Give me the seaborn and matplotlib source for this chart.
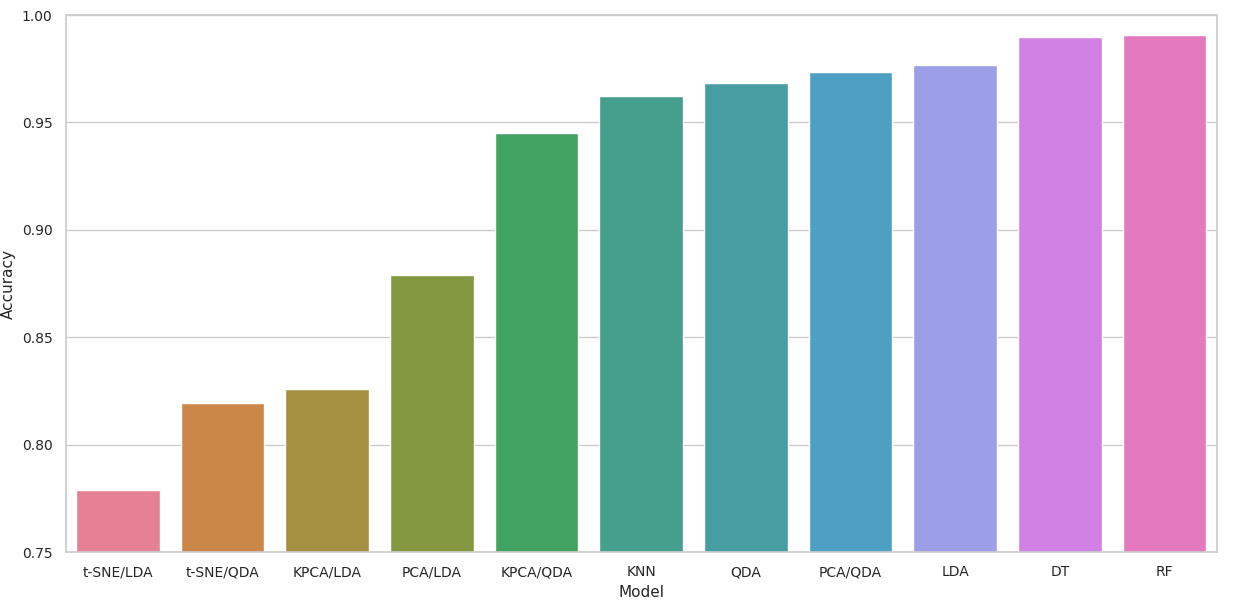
import pandas as pd
import matplotlib.pyplot as plt
import seaborn as sns

models = ['t-SNE/LDA', 't-SNE/QDA', 'KPCA/LDA', 'PCA/LDA', 'KPCA/QDA', 'KNN',
          'QDA', 'PCA/QDA', 'LDA', 'DT', 'RF']
accuracy = [0.7789, 0.8194, 0.8259, 0.879, 0.945, 0.9623,
            0.9683, 0.9735, 0.9767, 0.990, 0.9907]

df = pd.DataFrame({'Model': models, 'Accuracy': accuracy})

sns.set_theme(style='whitegrid')
fig, ax = plt.subplots(figsize=(12.38, 6.04), dpi=100)
fig.subplots_adjust(left=0.053, right=0.983, top=0.975, bottom=0.086)
sns.barplot(data=df, x='Model', y='Accuracy', hue='Model', palette='husl',
            saturation=0.75, legend=False, ax=ax)
ax.set_ylim(0.75, 1.0)
ax.tick_params(labelsize=10)
ax.xaxis.label.set_size(11)
ax.yaxis.label.set_size(11)

plt.savefig('out.png')
